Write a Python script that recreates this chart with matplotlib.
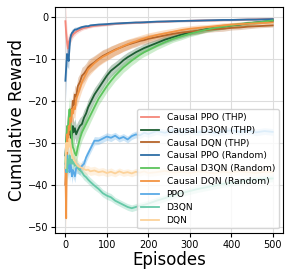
import matplotlib
matplotlib.use("Agg")
import matplotlib.pyplot as plt
import numpy as np

episodes = [0, 2, 4, 6, 8, 10, 12, 14, 16, 18, 20, 23, 26, 30, 35, 40, 45, 50, 55, 60,
            70, 80, 90, 100, 110, 120, 130, 140, 150, 160, 170, 180, 190, 200,
            220, 240, 260, 280, 300, 320, 340, 360, 380, 400, 420, 440, 460, 480, 500]

causal_ppo_thp = [-1.0, -4.0, -6.0, -7.5, -6.0, -5.5, -5.0, -4.8, -4.5, -4.2, -4.0, -3.8, -3.5, -3.3,
                  -3.0, -2.8, -2.6, -2.5, -2.4, -2.3, -2.1, -2.0, -1.9, -1.8, -1.7, -1.6, -1.55,
                  -1.5, -1.45, -1.4, -1.35, -1.3, -1.3, -1.25, -1.15, -1.1, -1.0, -0.95, -0.9,
                  -0.85, -0.8, -0.8, -0.75, -0.7, -0.65, -0.6, -0.55, -0.5, -0.45]
causal_d3qn_thp = [-33, -30, -27, -29, -26, -28, -27, -29, -28, -26, -27.5, -26.5, -28, -27, -26,
                   -25.5, -24, -23, -21.5, -20.5, -18.5, -17, -15.5, -14, -12.8, -12, -11.2, -10.3,
                   -9.6, -9.0, -8.4, -7.9, -7.4, -7.0, -6.2, -5.4, -4.8, -4.2, -3.7, -3.3, -2.9,
                   -2.6, -2.3, -2.0, -1.8, -1.5, -1.3, -1.1, -0.9]
causal_dqn_thp = [-40, -36, -30, -26, -28, -24, -25, -22, -23, -20, -21, -18.5, -19, -16.5, -15.5,
                  -14, -13.5, -12.8, -12.0, -11.5, -10.8, -10.0, -9.3, -8.8, -8.3, -7.8, -7.4, -7.0,
                  -6.6, -6.3, -6.0, -5.7, -5.5, -5.2, -4.8, -4.4, -4.0, -3.7, -3.5, -3.3, -3.1,
                  -2.9, -2.8, -2.6, -2.5, -2.3, -2.2, -2.1, -2.0]
causal_ppo_rand = [-15.2, -12, -8.8, -9.5, -10.5, -7, -5, -4.2, -3.8, -3.6, -3.3, -3.0, -3.0, -2.8,
                   -2.6, -2.4, -2.3, -2.2, -2.2, -2.0, -1.9, -1.8, -1.75, -1.7, -1.6, -1.55, -1.5,
                   -1.45, -1.4, -1.35, -1.3, -1.3, -1.25, -1.2, -1.1, -1.05, -1.0, -0.95, -0.9,
                   -0.85, -0.8, -0.75, -0.7, -0.7, -0.65, -0.6, -0.6, -0.55, -0.5]
causal_d3qn_rand = [-35, -30, -26, -28, -24, -22, -25, -27, -29, -31, -31.5, -32.5, -33, -31, -29,
                    -27.5, -26.5, -25.5, -24.5, -23.5, -21.5, -19.5, -18, -16.5, -15.2, -14, -13,
                    -12, -11.2, -10.4, -9.7, -9.0, -8.4, -7.9, -6.9, -6.0, -5.2, -4.6, -4.0, -3.5,
                    -3.0, -2.6, -2.3, -2.0, -1.7, -1.5, -1.3, -1.1, -0.8]
causal_dqn_rand = [-36, -48, -28, -30, -26, -27, -24, -25, -22, -23, -21.5, -22, -19.5, -18.5, -17,
                   -15.5, -14.5, -13.5, -12.5, -12.0, -11.0, -10.2, -9.5, -9.0, -8.4, -7.9, -7.4,
                   -6.9, -6.5, -6.1, -5.8, -5.4, -5.1, -4.8, -4.3, -3.9, -3.5, -3.1, -2.8, -2.6,
                   -2.4, -2.2, -2.0, -1.8, -1.7, -1.6, -1.5, -1.4, -1.3]
ppo = [-35, -37, -33, -36, -34, -37, -35, -36, -38, -36.5, -37, -38, -36, -36, -36.5, -35.5, -35,
       -33.5, -32.5, -31.5, -29.5, -29.5, -29, -28.5, -28.8, -28.3, -29, -28.6, -29.2, -28.4,
       -28, -28.2, -27.6, -27.9, -27.2, -27.6, -27.0, -27.4, -27.1, -27.5, -27.2, -27.6, -27.3,
       -27.0, -27.4, -27.1, -27.5, -27.2, -27.4]
d3qn = [-36, -33, -37, -34, -35, -33, -34, -35, -34, -35, -34.5, -35.5, -35, -36, -36.5, -37,
        -37.8, -38.2, -38.8, -39.3, -40.2, -41, -42, -42.6, -43, -43.8, -44.3, -44.8, -45.3,
        -45.6, -45.3, -45.0, -44.8, -44.5, -43.8, -43.2, -42.5, -42, -41.5, -41, -40.6, -40.2,
        -39.8, -39.5, -39.2, -39.0, -38.8, -38.6, -38.5]
dqn = [-36, -30, -32, -30, -31, -29, -30.5, -32, -33, -33.5, -34, -34.5, -35, -35.5, -35.8, -36,
       -36.3, -36.5, -36.4, -36.8, -36.6, -37.0, -36.8, -37.2, -36.9, -37.3, -36.8, -37.2, -37.0,
       -37.3, -36.9, -37.1, -36.8, -37.2, -37.0, -36.7, -37.1, -36.9, -37.2, -36.8, -37.0, -37.3,
       -36.9, -37.1, -36.8, -37.0, -37.2, -36.9, -37.0]

# half widths of the shaded bands
band_big = [3, 3, 3, 3, 3, 3, 3, 2.8, 2.6, 2.5, 2.4, 2.3, 2.2, 2.1, 2.0, 2.0, 1.9, 1.8, 1.8, 1.7,
            1.6, 1.5, 1.5, 1.4, 1.4, 1.3, 1.3, 1.2, 1.2, 1.1, 1.1, 1.0, 1.0, 1.0, 0.9, 0.9, 0.8,
            0.8, 0.7, 0.7, 0.6, 0.6, 0.6, 0.5, 0.5, 0.5, 0.4, 0.4, 0.4]
band_ppo = [5, 4, 3, 2.5, 2, 1.5, 1.2, 1.0, 0.9, 0.8, 0.7, 0.6, 0.6, 0.5, 0.5, 0.4, 0.4, 0.4, 0.3,
            0.3, 0.3, 0.3, 0.3, 0.3, 0.3, 0.2, 0.2, 0.2, 0.2, 0.2, 0.2, 0.2, 0.2, 0.2, 0.2, 0.2,
            0.2, 0.2, 0.2, 0.2, 0.2, 0.2, 0.2, 0.2, 0.2, 0.2, 0.2, 0.2, 0.2]
band_base = [3, 3, 3, 2.8, 2.6, 2.4, 2.2, 2.0, 1.8, 1.7, 1.6, 1.5, 1.4, 1.3, 1.2, 1.2, 1.1, 1.1,
             1.0, 1.0, 1.0, 0.9, 0.9, 0.9, 0.9, 0.8, 0.8, 0.8, 0.8, 0.8, 0.8, 0.8, 0.8, 0.8, 0.8,
             0.8, 0.8, 0.8, 0.8, 0.8, 0.8, 0.8, 0.8, 0.8, 0.8, 0.8, 0.8, 0.8, 0.8]

series = [
    ("Causal PPO (THP)", causal_ppo_thp, band_ppo, "#f4877a"),
    ("Causal D3QN (THP)", causal_d3qn_thp, band_big, "#1e5e32"),
    ("Causal DQN (THP)", causal_dqn_thp, band_big, "#b5652a"),
    ("Causal PPO (Random)", causal_ppo_rand, band_ppo, "#2e6ea6"),
    ("Causal D3QN (Random)", causal_d3qn_rand, band_big, "#5cc45c"),
    ("Causal DQN (Random)", causal_dqn_rand, band_big, "#f39442"),
    ("PPO", ppo, band_base, "#5aaae6"),
    ("D3QN", d3qn, band_base, "#66c9a8"),
    ("DQN", dqn, band_base, "#fcd29a"),
]

fig = plt.figure(figsize=(2.91, 2.78), dpi=100)
ax = fig.add_axes([0.189, 0.162, 0.784, 0.813])

x = np.array(episodes)
for name, vals, band, color in series:
    y = np.array(vals)
    b = np.array(band)
    ax.fill_between(x, y - b, y + b, color=color, alpha=0.3, linewidth=0)
    ax.plot(x, y, color=color, linewidth=1.3, label=name)

ax.set_xlim(-25, 525)
ax.set_ylim(-51.5, 2.4)
ax.set_xticks([0, 100, 200, 300, 400, 500])
ax.set_yticks([0, -10, -20, -30, -40, -50])
ax.grid(True, color="#dddddd", linewidth=0.8)
ax.set_axisbelow(True)
ax.tick_params(labelsize=7, length=3, pad=2)
ax.set_xlabel("Episodes", fontsize=12, labelpad=1)
ax.set_ylabel("Cumulative Reward", fontsize=12, labelpad=1)
ax.legend(loc="lower right", fontsize=6.6, framealpha=0.8, handlelength=2,
          labelspacing=0.42, borderpad=0.4)

fig.savefig("out.png", dpi=100)
